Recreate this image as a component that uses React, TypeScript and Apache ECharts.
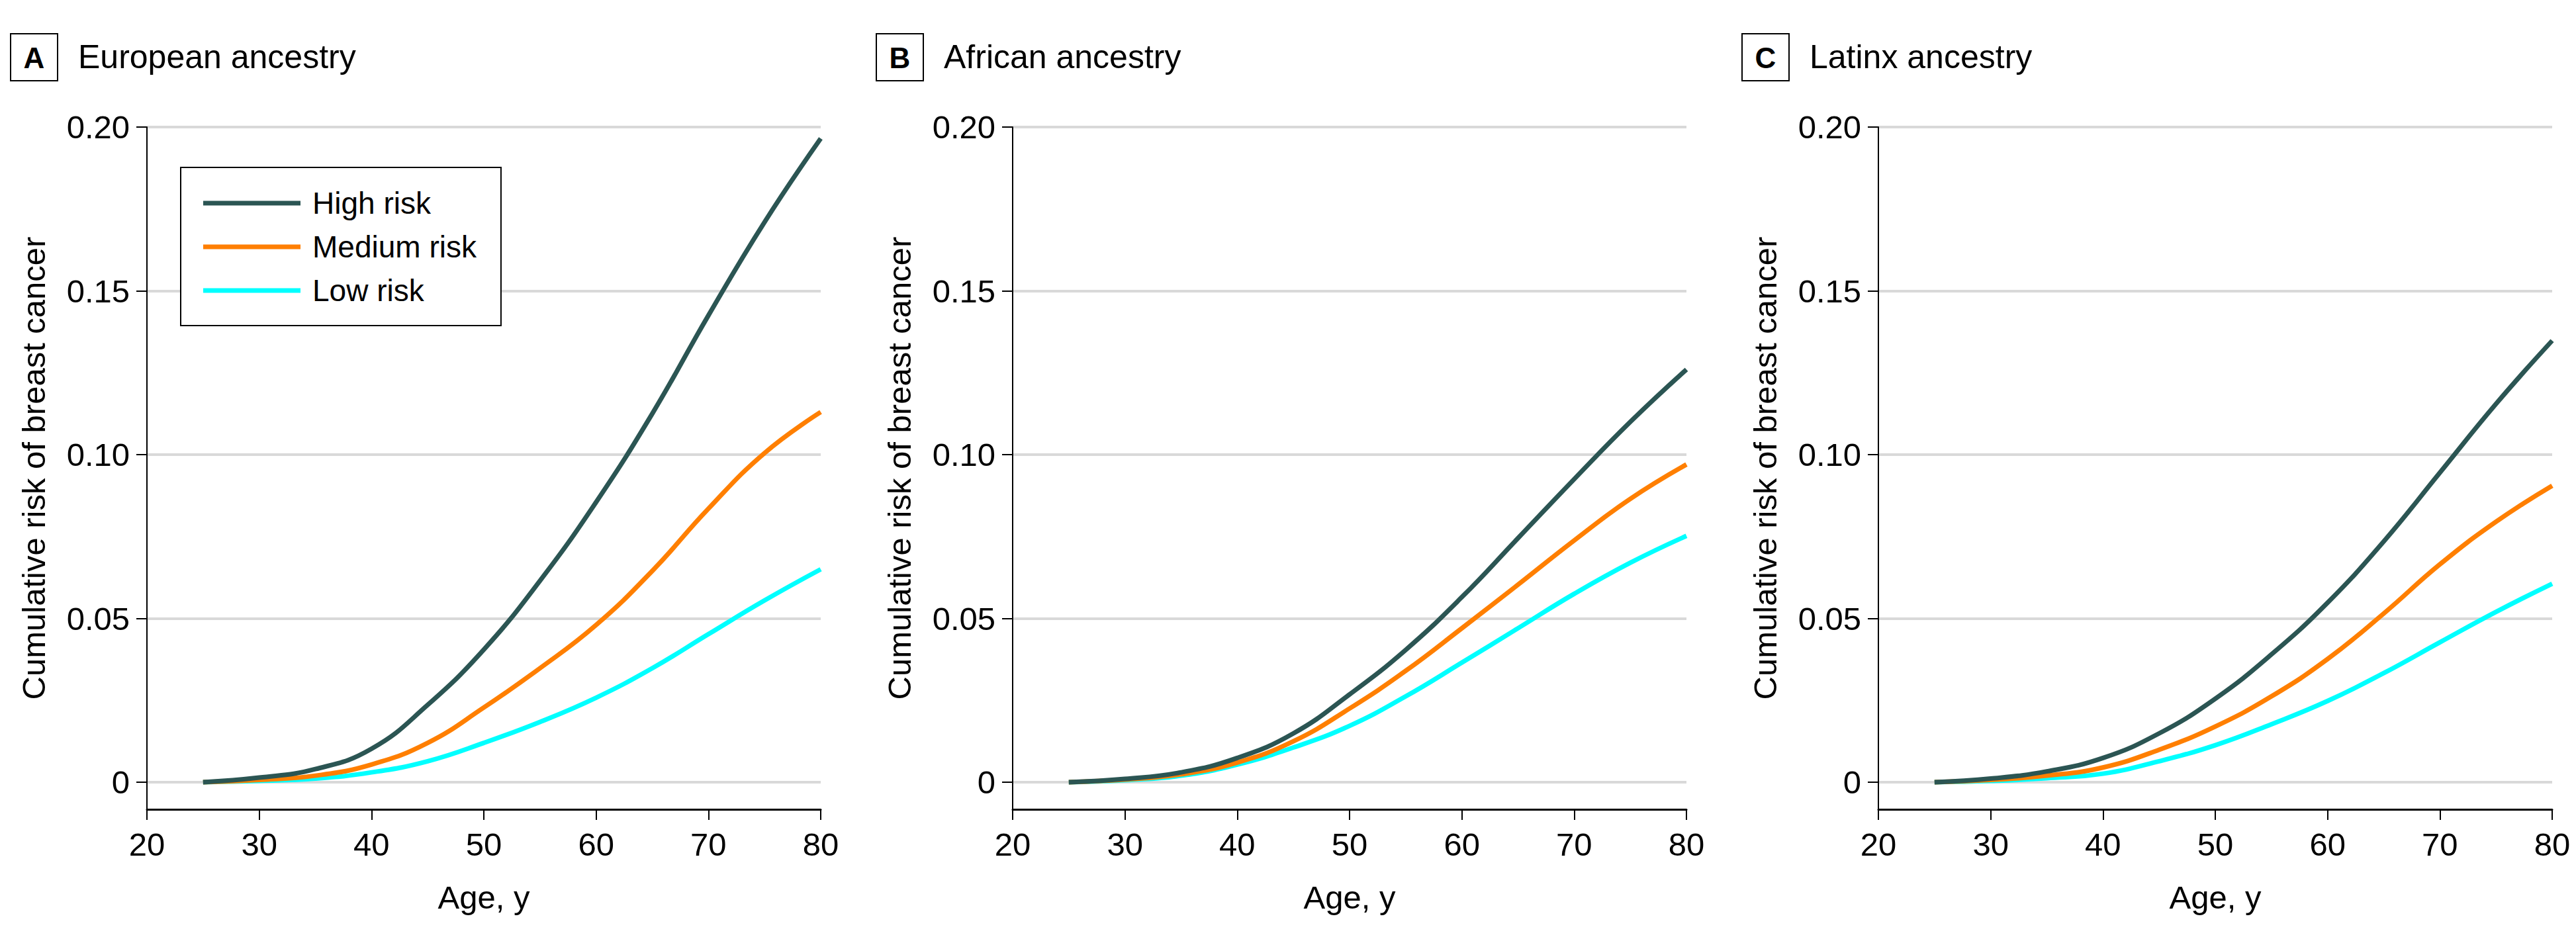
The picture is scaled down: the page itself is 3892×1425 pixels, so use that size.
import React, { useEffect, useRef } from "react";
import * as echarts from "echarts";

const ages = [25, 30, 35, 40, 45, 50, 55, 60, 65, 70, 75, 80];
const seriesNames = ["High risk", "Medium risk", "Low risk"];
const seriesColors = ["#2B5553", "#FF7F00", "#00FFFF"];
const panelLetters = ["A", "B", "C"];
const panelTitles = ["European ancestry", "African ancestry", "Latinx ancestry"];
const yTicks = [0, 0.05, 0.1, 0.15, 0.2];

const europeanHigh = [0, 0.0014, 0.004, 0.0102, 0.0236, 0.0405, 0.0615, 0.0855, 0.1125, 0.1425, 0.171, 0.1965];
const europeanMedium = [0, 0.0007, 0.002, 0.0054, 0.012, 0.0228, 0.0348, 0.048, 0.0645, 0.0835, 0.1005, 0.113];
const europeanLow = [0, 0.0004, 0.0011, 0.003, 0.0064, 0.012, 0.0184, 0.0258, 0.0348, 0.0452, 0.0555, 0.065];
const africanHigh = [0, 0.001, 0.003, 0.0074, 0.0149, 0.0268, 0.0404, 0.0565, 0.0745, 0.0925, 0.110, 0.126];
const africanMedium = [0, 0.0008, 0.0024, 0.006, 0.0125, 0.0225, 0.034, 0.047, 0.0603, 0.0738, 0.0865, 0.097];
const africanLow = [0, 0.0006, 0.002, 0.0054, 0.0106, 0.0172, 0.0262, 0.0365, 0.047, 0.0575, 0.067, 0.0752];
const latinxHigh = [0, 0.0011, 0.0033, 0.0074, 0.0149, 0.0255, 0.039, 0.0548, 0.0735, 0.0945, 0.1155, 0.1348];
const latinxMedium = [0, 0.0007, 0.002, 0.0045, 0.0099, 0.017, 0.0262, 0.0376, 0.0515, 0.0665, 0.0795, 0.0905];
const latinxLow = [0, 0.0004, 0.0012, 0.0026, 0.0064, 0.0113, 0.0177, 0.0248, 0.0333, 0.0427, 0.052, 0.0606];

const panelData = [
  [europeanHigh, europeanMedium, europeanLow],
  [africanHigh, africanMedium, africanLow],
  [latinxHigh, latinxMedium, latinxLow],
];

const FONT = "'Liberation Sans', Arial, sans-serif";
const W = 3892;
const H = 1425;
const gridLefts = [222, 1530, 2838];
const gridTop = 192;
const gridWidth = 1018;
const gridHeight = 1031;
const yMin = -0.00828;

export default function App() {
  const ref = useRef<HTMLDivElement>(null);
  useEffect(() => {
    if (!ref.current) return;
    const chart = echarts.init(ref.current, undefined, { renderer: "svg" });

    const grids = gridLefts.map((left) => ({
      left,
      top: gridTop,
      width: gridWidth,
      height: gridHeight,
      containLabel: false,
      outerBoundsMode: "none",
    }));

    const xAxes = gridLefts.map((_, i) => ({
      type: "value",
      gridIndex: i,
      min: 20,
      max: 80,
      interval: 10,
      name: "Age, y",
      nameLocation: "middle",
      nameGap: 108,
      nameTextStyle: { fontSize: 49, fontFamily: FONT, color: "#000" },
      axisLine: { show: true, onZero: false, lineStyle: { color: "#000", width: 3 } },
      axisTick: { show: true, inside: false, length: 16, lineStyle: { color: "#000", width: 2 } },
      axisLabel: { margin: 28, fontSize: 49, fontFamily: FONT, color: "#000" },
      splitLine: { show: false },
    }));

    const yAxes = gridLefts.map((_, i) => ({
      type: "value",
      gridIndex: i,
      min: yMin,
      max: 0.2,
      name: "Cumulative risk of breast cancer",
      nameLocation: "middle",
      nameRotate: 90,
      nameGap: 147,
      nameTextStyle: { fontSize: 49, fontFamily: FONT, color: "#000" },
      axisLine: { show: true, onZero: false, lineStyle: { color: "#000", width: 2 } },
      axisTick: {
        show: true,
        inside: false,
        length: 16,
        customValues: yTicks,
        lineStyle: { color: "#000", width: 2 },
      },
      axisLabel: {
        margin: 26,
        fontSize: 49,
        fontFamily: FONT,
        color: "#000",
        customValues: yTicks,
        formatter: (v: number) => (Math.abs(v) < 1e-9 ? "0" : v.toFixed(2)),
      },
      splitLine: { show: true, lineStyle: { color: "#D9D9D9", width: 4 } },
    }));

    const series: any[] = [];
    panelData.forEach((sets, p) => {
      sets.forEach((vals, s) => {
        series.push({
          type: "line",
          name: seriesNames[s],
          xAxisIndex: p,
          yAxisIndex: p,
          data: ages.map((a, k) => [a, vals[k]]),
          smooth: 0.45,
          showSymbol: false,
          symbol: "none",
          color: seriesColors[s],
          itemStyle: { color: seriesColors[s] },
          lineStyle: { color: seriesColors[s], width: 7 },
          z: 5 - s,
        });
      });
    });

    const graphic: any[] = [];
    gridLefts.forEach((left, i) => {
      const boxLeft = left - 206;
      graphic.push({
        type: "rect",
        shape: { x: boxLeft, y: 51, width: 71, height: 71 },
        style: { fill: "none", stroke: "#000", lineWidth: 2 },
      });
      graphic.push({
        type: "text",
        x: boxLeft + 35.5,
        y: 87,
        style: {
          text: panelLetters[i],
          fontSize: 44,
          fontWeight: "bold",
          fontFamily: FONT,
          fill: "#000",
          align: "center",
          verticalAlign: "middle",
        },
      });
      graphic.push({
        type: "text",
        x: boxLeft + 102,
        y: 86,
        style: {
          text: panelTitles[i],
          fontSize: 50,
          fontFamily: FONT,
          fill: "#000",
          align: "left",
          verticalAlign: "middle",
        },
      });
    });

    chart.setOption({
      animation: false,
      backgroundColor: "#fff",
      textStyle: { fontFamily: FONT },
      grid: grids,
      xAxis: xAxes,
      yAxis: yAxes,
      legend: {
        data: seriesNames,
        orient: "vertical",
        left: 273,
        top: 253,
        icon: "rect",
        itemWidth: 147,
        itemHeight: 7,
        itemGap: 16,
        padding: [29, 37, 28, 34],
        borderColor: "#000",
        borderWidth: 2,
        backgroundColor: "#fff",
        selectedMode: false,
        textStyle: { fontSize: 46, fontFamily: FONT, color: "#000", lineHeight: 50, padding: [0, 0, 0, 13] },
      },
      graphic,
      series,
    });

    return () => chart.dispose();
  }, []);

  return (
    <div
      ref={ref}
      style={{ position: "fixed", left: 0, top: 0, width: W, height: H, background: "#fff" }}
    />
  );
}
